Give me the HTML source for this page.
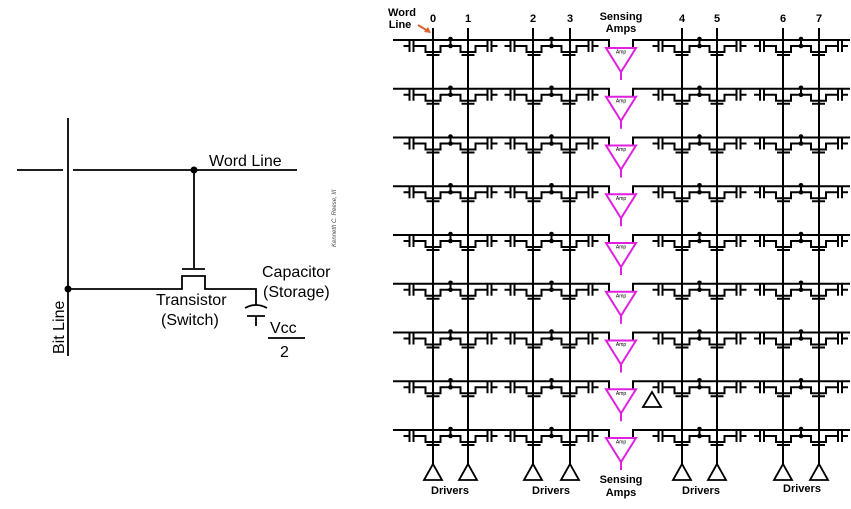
<!DOCTYPE html>
<html><head><meta charset="utf-8"><style>
html,body{margin:0;padding:0;background:#fff}
svg{display:block}
text{font-family:"Liberation Sans",Arial,sans-serif}
</style></head><body>
<svg width="851" height="509" viewBox="0 0 851 509" xmlns="http://www.w3.org/2000/svg">
<defs>
<g id="pair" fill="none" stroke="#000" stroke-width="2">
  <line x1="0" y1="0" x2="0" y2="6"/>
  <circle cx="0" cy="-1" r="2.3" fill="#000" stroke="none"/>
  <circle cx="0" cy="6" r="2.3" fill="#000" stroke="none"/>
  <!-- left cell -->
  <polyline points="-47,6 -41,6"/>
  <line x1="-41" y1="0" x2="-41" y2="12"/>
  <line x1="-37" y1="0" x2="-37" y2="12"/>
  <polyline points="-37,6 -25,6 -25,12 -10,12 -10,6 0,6"/>
  <line x1="-24" y1="15" x2="-11" y2="15"/>
  <!-- right cell -->
  <polyline points="47,6 41,6"/>
  <line x1="41" y1="0" x2="41" y2="12"/>
  <line x1="37" y1="0" x2="37" y2="12"/>
  <polyline points="37,6 25,6 25,12 10,12 10,6 0,6"/>
  <line x1="24" y1="15" x2="11" y2="15"/>
</g>
<g id="amp">
  <polygon points="-15,0 15,0 0,24" fill="none" stroke="#e020e0" stroke-width="2"/>
  <line x1="0" y1="24" x2="0" y2="32" stroke="#e020e0" stroke-width="2"/>
  <text x="0" y="5.5" font-size="5" text-anchor="middle" fill="#000" stroke="none">Amp</text>
</g>
<g id="row">
  <polyline points="393,0 609,0 609,8" fill="none" stroke="#000" stroke-width="2"/>
  <polyline points="633,8 633,0 850,0" fill="none" stroke="#000" stroke-width="2"/>
  <use href="#pair" x="450.5"/>
  <use href="#pair" x="551.5"/>
  <use href="#pair" x="699.5"/>
  <use href="#pair" x="801"/>
  <use href="#amp" x="621" y="8"/>
</g>
</defs>

<!-- Left circuit -->
<g fill="none" stroke="#000" stroke-width="1.8">
  <line x1="68" y1="118" x2="68" y2="356"/>
  <line x1="17" y1="170" x2="63" y2="170"/>
  <line x1="73" y1="170" x2="297" y2="170"/>
  <line x1="194" y1="170" x2="194" y2="268"/>
  <line x1="182" y1="269" x2="205" y2="269"/>
  <polyline points="68,289 182,289 182,276 205,276 205,289 256,289 256,305"/>
  <path d="M245,308 Q256,302 267,308"/>
  <line x1="247" y1="316" x2="265" y2="316"/>
  <line x1="256" y1="316" x2="256" y2="326"/>
  <line x1="268" y1="338" x2="305" y2="338"/>
</g>
<circle cx="194" cy="170" r="3.5"/>
<circle cx="68" cy="289" r="3.5"/>
<g font-size="16" fill="#000">
  <text x="209" y="166">Word Line</text>
  <text x="262" y="277">Capacitor</text>
  <text x="263" y="297">(Storage)</text>
  <text x="156" y="305">Transistor</text>
  <text x="161" y="325">(Switch)</text>
  <text x="270" y="333">Vcc</text>
  <text x="280" y="357">2</text>
  <text transform="translate(64,354) rotate(-90)">Bit Line</text>
</g>
<text transform="translate(336,247) rotate(-90)" font-size="6" font-style="italic" fill="#444">Kenneth C. Reese, III</text>

<!-- Grid bit lines -->
<g stroke="#000" stroke-width="2">
  <line x1="433" y1="28" x2="433" y2="464"/>
  <line x1="468" y1="28" x2="468" y2="464"/>
  <line x1="533" y1="28" x2="533" y2="464"/>
  <line x1="570" y1="28" x2="570" y2="464"/>
  <line x1="682" y1="28" x2="682" y2="464"/>
  <line x1="717" y1="28" x2="717" y2="464"/>
  <line x1="783" y1="28" x2="783" y2="464"/>
  <line x1="819" y1="28" x2="819" y2="464"/>
</g>
<use href="#row" y="40"/>
<use href="#row" y="88.75"/>
<use href="#row" y="137.5"/>
<use href="#row" y="186.25"/>
<use href="#row" y="235"/>
<use href="#row" y="283.75"/>
<use href="#row" y="332.5"/>
<use href="#row" y="381.25"/>
<use href="#row" y="430"/>

<!-- drivers -->
<g fill="none" stroke="#000" stroke-width="1.8">
  <polygon points="433,464 424,480 442,480"/>
  <polygon points="468,464 459,480 477,480"/>
  <polygon points="533,464 524,480 542,480"/>
  <polygon points="570,464 561,480 579,480"/>
  <polygon points="682,464 673,480 691,480"/>
  <polygon points="717,464 708,480 726,480"/>
  <polygon points="783,464 774,480 792,480"/>
  <polygon points="819,464 810,480 828,480"/>
  <polygon points="652,392 643,407 661,407"/>
</g>
<g font-size="11" font-weight="bold" fill="#000" text-anchor="middle">
  <text x="450" y="494">Drivers</text>
  <text x="551" y="494">Drivers</text>
  <text x="701" y="494">Drivers</text>
  <text x="802" y="492">Drivers</text>
  <text x="621" y="483">Sensing</text>
  <text x="621" y="496">Amps</text>
  <text x="621" y="20">Sensing</text>
  <text x="621" y="32">Amps</text>
  <text x="433" y="22">0</text>
  <text x="468" y="22">1</text>
  <text x="533" y="22">2</text>
  <text x="570" y="22">3</text>
  <text x="682" y="22">4</text>
  <text x="717" y="22">5</text>
  <text x="783" y="22">6</text>
  <text x="819" y="22">7</text>
  <text x="402" y="16">Word</text>
  <text x="400" y="28">Line</text>
</g>
<line x1="418" y1="25" x2="428" y2="31" stroke="#e06030" stroke-width="2"/>
<polygon points="431,33 424,32 428,27" fill="#e06030"/>
</svg>
</body></html>
